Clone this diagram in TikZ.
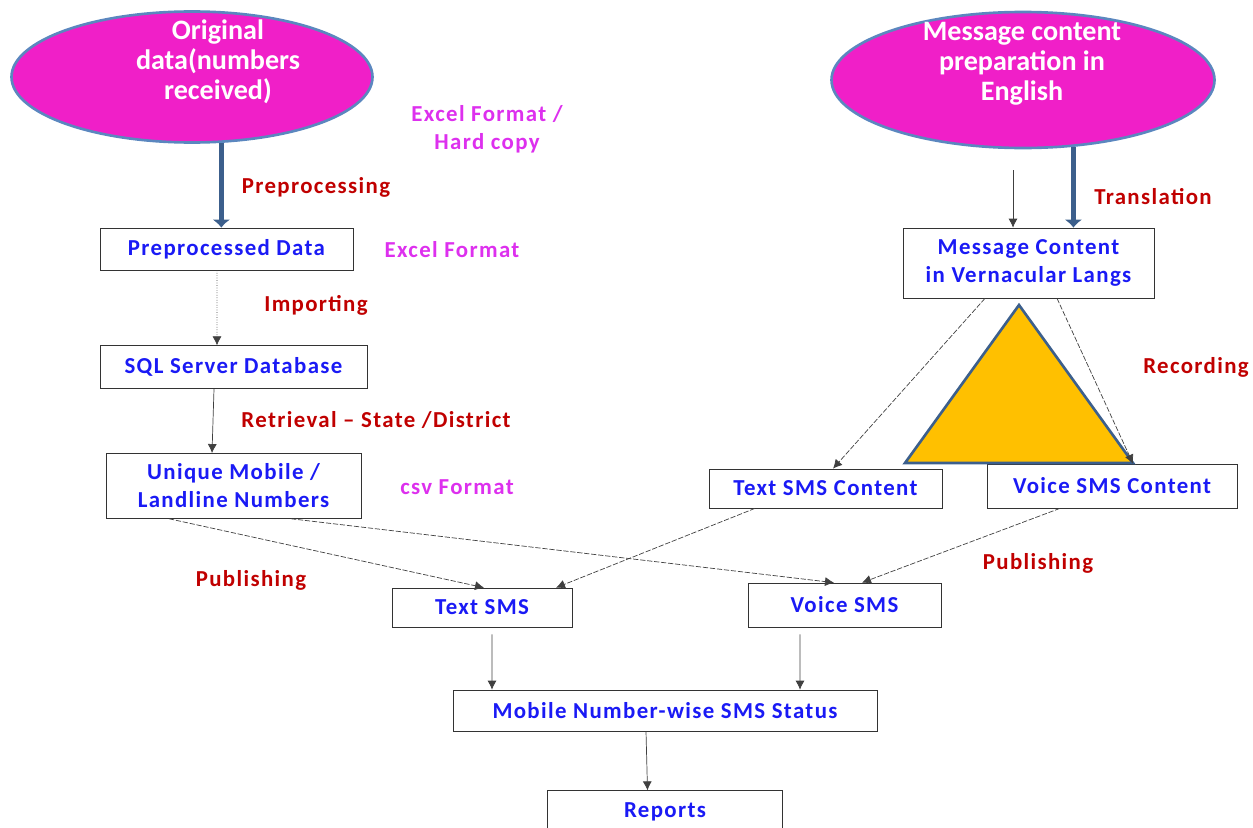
\documentclass[tikz,border=0pt]{standalone}
\usepackage{fontspec}
\setmainfont{Carlito}
\newfontfamily\boxfont{Carlito}[LetterSpace=6]
\usepackage{tikz}
\usetikzlibrary{shapes.geometric, arrows.meta, positioning}
\definecolor{blobfill}{HTML}{F01FC8}
\definecolor{blobedge}{HTML}{5B87BF}
\definecolor{pipe}{HTML}{3C5F8C}
\definecolor{boxtext}{HTML}{1A1AF5}
\definecolor{steptext}{HTML}{C00000}
\definecolor{fmttext}{HTML}{DD30EE}
\definecolor{trifill}{HTML}{FFC000}

\begin{document}
\begin{tikzpicture}[
        font=\boxfont\bfseries\fontsize{13}{16}\selectfont,
        blob/.style={draw=blobedge, line width=1.5pt, ellipse, fill=blobfill, inner sep=0pt},
        blobtext/.style={text=white, align=center, font=\rmfamily\bfseries\fontsize{16}{17}\selectfont},
        box/.style={draw=black!80, fill=white, text=boxtext, align=center, minimum height=0.84cm, inner sep=2pt},
        stepname/.style={text=steptext},
        fmt/.style={text=fmttext, align=center},
        pipearr/.style={-{Latex[length=1.6mm,width=3.6mm]}, line width=3pt, draw=pipe},
        arr/.style={-{Latex[length=1.8mm,width=1.8mm]}, draw=black!75},
        dotarr/.style={arr, densely dotted},
        slant/.style={arr, dash pattern=on 3pt off 1pt}
    ]
    \useasboundingbox (0,0) rectangle (25.06,-16.54);

    % sources
    \node[blob, minimum width=7.22cm, minimum height=2.62cm] (orig) at (3.84,-1.54) {};
    \node[blobtext] (origtxt) at (4.36,-1.24) {Original\\data(numbers\\received)};
    \node[blob, minimum width=7.66cm, minimum height=2.72cm] (msg) at (20.46,-1.60) {};
    \node[blobtext] (msgtxt) at (20.44,-1.28) {Message content\\preparation in\\English};

    % left column
    \node[box, minimum width=5.06cm] (prep) at (4.53,-4.98) {Preprocessed Data};
    \node[box, minimum width=5.34cm, minimum height=0.86cm, below=1.5cm of prep, xshift=1.4mm] (sql) {SQL Server Database};
    \node[box, minimum width=5.10cm, minimum height=1.30cm, below=1.28cm of sql] (uniq) {Unique Mobile /\\Landline Numbers};

    % right column
    \node[box, minimum width=5.02cm, minimum height=1.40cm] (vern) at (20.57,-5.26) {Message Content\\in Vernacular  Langs};
    \node[box, minimum width=4.66cm, minimum height=0.78cm] (txtc) at (16.51,-9.77) {Text SMS Content};
    \node[box, minimum width=5.00cm, minimum height=0.88cm] (voic) at (22.24,-9.72) {Voice SMS Content};

    % bottom
    \node[box, minimum width=3.60cm, minimum height=0.78cm] (tsms) at (9.64,-12.15) {Text SMS};
    \node[box, minimum width=3.86cm, minimum height=0.88cm] (vsms) at (16.89,-12.10) {Voice SMS};
    \node[box, minimum width=8.48cm, minimum height=0.82cm] (status) at (13.30,-14.21) {Mobile Number-wise  SMS Status};
    \node[box, minimum width=4.70cm, below=1.18cm of status] (reports) {Reports};

    % recording triangle
    \filldraw[draw=pipe, fill=trifill, line width=1.5pt] (20.38,-6.10) -- (22.66,-9.26) -- (18.10,-9.26) -- cycle;

    % labels
    \node[fmt] (fmtraw) at (9.74,-2.58) {Excel Format /\\Hard copy};
    \node[stepname] (lblprep) at (6.32,-3.74) {Preprocessing};
    \node[fmt] (fmtprep) at (9.04,-5.00) {Excel Format};
    \node[stepname] (lblimp) at (6.32,-6.10) {Importing};
    \node[stepname] (lblret) at (7.52,-8.40) {Retrieval – State /District};
    \node[fmt] (fmtcsv) at (9.14,-9.74) {csv Format};
    \node[stepname] (lbltr) at (23.06,-3.94) {Translation};
    \node[stepname] (lblrec) at (23.92,-7.34) {Recording};
    \node[stepname] (lblpub) at (5.02,-11.60) {Publishing};
    \node[stepname] (lblpubv) at (20.76,-11.26) {Publishing};

    % connectors
    \coordinate (engstart) at (20.26,-3.40);
    \draw[pipearr] (orig.-66) -- (orig.-66 |- prep.north);
    \draw[pipearr] (msg.-53) -- (msg.-53 |- vern.north);
    \draw[arr] (engstart) -- (engstart |- vern.north);
    \draw[dotarr] ([xshift=-1.9mm]prep.south) -- ([xshift=-3.3mm]sql.north);
    \draw[arr] ([xshift=-3.9mm]sql.south) -- ([xshift=-4.3mm]uniq.north);
    \draw[slant] ([xshift=-8.7mm]vern.south) -- ([xshift=1.5mm]txtc.north);
    \draw[slant] ([xshift=5.7mm]vern.south) -- ([xshift=4.2mm]voic.north);
    \draw[slant] ([xshift=-12.9mm]uniq.south) -- ([xshift=0.4mm]tsms.north);
    \draw[slant] ([xshift=11.5mm]uniq.south) -- ([xshift=-2.1mm]vsms.north);
    \draw[slant] ([xshift=-14.1mm]txtc.south) -- ([xshift=14.8mm]tsms.north);
    \draw[slant] ([xshift=-10.4mm]voic.south) -- ([xshift=3.5mm]vsms.north);
    \draw[arr, shorten <=4pt] ([xshift=2mm]tsms.south) -- ([xshift=-34.6mm]status.north);
    \draw[arr, shorten <=4pt] ([xshift=-8.9mm]vsms.south) -- ([xshift=27mm]status.north);
    \draw[arr] ([xshift=-3.8mm]status.south) -- ([xshift=-3.5mm]reports.north);
\end{tikzpicture}
\end{document}
